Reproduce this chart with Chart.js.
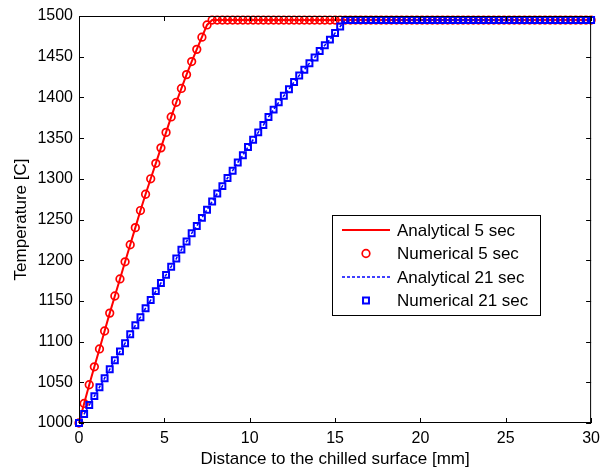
<!DOCTYPE html>
<html>
<head>
<meta charset="utf-8">
<script src="https://cdn.jsdelivr.net/npm/chart.js@4"></script>
<style>
  html, body { margin: 0; padding: 0; background: #fff; }
  #wrap { width: 606px; height: 472px; }
</style>
</head>
<body>
<div id="wrap"><canvas id="myChart" width="606" height="472"></canvas></div>
<script>
// DATA: distance grid [mm] (0 .. 30, every 0.3 mm) and temperatures [C]
const distance = Array.from({ length: 101 }, (_, i) => +(i * 0.3).toFixed(1));
const seriesLabels = ["Analytical 5 sec", "Numerical 5 sec", "Analytical 21 sec", "Numerical 21 sec"];
const xTicks = [0, 5, 10, 15, 20, 25, 30];
const yTicks = [1000, 1050, 1100, 1150, 1200, 1250, 1300, 1350, 1400, 1450, 1500];

const temp5 = [
  1000, 1024, 1047, 1069, 1091, 1113, 1135, 1156, 1177, 1198,
  1219, 1240, 1261, 1281, 1300, 1319, 1338, 1357, 1376, 1394,
  1411, 1428, 1444, 1459, 1474, 1489, 1495, 1495, 1495, 1495,
  1495, 1495, 1495, 1495, 1495, 1495, 1495, 1495, 1495, 1495,
  1495, 1495, 1495, 1495, 1495, 1495, 1495, 1495, 1495, 1495,
  1495, 1495, 1495, 1495, 1495, 1495, 1495, 1495, 1495, 1495,
  1495, 1495, 1495, 1495, 1495, 1495, 1495, 1495, 1495, 1495,
  1495, 1495, 1495, 1495, 1495, 1495, 1495, 1495, 1495, 1495,
  1495, 1495, 1495, 1495, 1495, 1495, 1495, 1495, 1495, 1495,
  1495, 1495, 1495, 1495, 1495, 1495, 1495, 1495, 1495, 1495,
  1495,
];
const temp21 = [
  1000, 1011, 1022, 1033, 1044, 1055, 1066, 1077, 1088, 1098,
  1109, 1120, 1130, 1141, 1151, 1162, 1172, 1182, 1192, 1202,
  1213, 1223, 1233, 1242, 1252, 1262, 1272, 1282, 1291, 1301,
  1310, 1320, 1329, 1339, 1348, 1357, 1366, 1376, 1385, 1394,
  1402, 1410, 1419, 1427, 1434, 1442, 1449, 1457, 1464, 1471,
  1479, 1487, 1495, 1495, 1495, 1495, 1495, 1495, 1495, 1495,
  1495, 1495, 1495, 1495, 1495, 1495, 1495, 1495, 1495, 1495,
  1495, 1495, 1495, 1495, 1495, 1495, 1495, 1495, 1495, 1495,
  1495, 1495, 1495, 1495, 1495, 1495, 1495, 1495, 1495, 1495,
  1495, 1495, 1495, 1495, 1495, 1495, 1495, 1495, 1495, 1495,
  1495,
];

const FONT = "'Liberation Sans', Arial, sans-serif";
const toPoints = (ys) => distance.map((x, i) => ({ x: x, y: ys[i] }));

// FRAME WITH INWARD TICKS (matlab style box)
const framePlugin = {
  id: "frame",
  afterDatasetsDraw(chart) {
    const { ctx, chartArea: a, scales } = chart;
    ctx.save();
    ctx.strokeStyle = "#000";
    ctx.lineWidth = 1;
    ctx.strokeRect(a.left + 0.5, a.top + 0.5, a.right - a.left - 1, a.bottom - a.top - 1);
    ctx.beginPath();
    xTicks.forEach((v) => {
      const px = Math.round(scales.x.getPixelForValue(v)) + 0.5;
      ctx.moveTo(px, a.bottom); ctx.lineTo(px, a.bottom - 5);
      ctx.moveTo(px, a.top); ctx.lineTo(px, a.top + 5);
    });
    yTicks.forEach((v) => {
      const py = Math.round(scales.y.getPixelForValue(v)) + 0.5;
      ctx.moveTo(a.left, py); ctx.lineTo(a.left + 5, py);
      ctx.moveTo(a.right, py); ctx.lineTo(a.right - 5, py);
    });
    ctx.stroke();
    ctx.restore();
  },
};

// LEGEND BOX INSIDE THE PLOT
const legendBox = {
  id: "legendBox",
  afterDraw(chart) {
    const { ctx } = chart;
    const bx = 332, by = 215, bw = 208, bh = 100, rowH = 23.5;
    ctx.save();
    ctx.fillStyle = "#fff";
    ctx.fillRect(bx, by, bw, bh);
    ctx.strokeStyle = "#000";
    ctx.lineWidth = 1;
    ctx.strokeRect(bx + 0.5, by + 0.5, bw, bh);
    ctx.font = "17px " + FONT;
    ctx.textBaseline = "middle";
    seriesLabels.forEach((label, i) => {
      const ds = chart.data.datasets.find((d) => d.label === label);
      const cy = by + 15 + i * rowH;
      if (ds.showLine) {
        ctx.beginPath();
        ctx.strokeStyle = ds.borderColor;
        ctx.lineWidth = ds.borderWidth;
        ctx.setLineDash(ds.borderDash || []);
        ctx.moveTo(bx + 10, cy); ctx.lineTo(bx + 58, cy);
        ctx.stroke();
        ctx.setLineDash([]);
      } else {
        ctx.fillStyle = "rgba(0,0,0,0)";
        ctx.strokeStyle = ds.pointBorderColor;
        ctx.lineWidth = ds.pointBorderWidth;
        Chart.helpers.drawPoint(ctx, { pointStyle: ds.pointStyle, radius: ds.pointRadius, borderWidth: ds.pointBorderWidth }, bx + 34, cy);
      }
      ctx.fillStyle = "#000";
      ctx.fillText(label, bx + 65, cy + 1);
    });
    ctx.restore();
  },
};

const tickFont = { family: FONT, size: 16 };
const titleFont = { family: FONT, size: 17 };
const ctx = document.getElementById("myChart").getContext("2d");
const myChart = new Chart(ctx, {
  type: "scatter",
  data: {
    datasets: [
      {
        label: "Numerical 21 sec",
        data: toPoints(temp21),
        showLine: false,
        pointStyle: "rect",
        pointRadius: 4.2,
        pointBorderWidth: 2,
        pointBorderColor: "#0000ff",
        pointBackgroundColor: "rgba(0,0,0,0)",
        order: 0,
      },
      {
        label: "Analytical 21 sec",
        // analytical curve coincides with the numerical points
        data: toPoints(temp21),
        showLine: true,
        borderColor: "#0000ff",
        borderWidth: 1.5,
        borderDash: [3, 2],
        pointRadius: 0,
        order: 1,
      },
      {
        label: "Numerical 5 sec",
        data: toPoints(temp5),
        showLine: false,
        pointStyle: "circle",
        pointRadius: 3.8,
        pointBorderWidth: 1.7,
        pointBorderColor: "#ff0000",
        pointBackgroundColor: "rgba(0,0,0,0)",
        order: 2,
      },
      {
        label: "Analytical 5 sec",
        data: toPoints(temp5),
        showLine: true,
        borderColor: "#ff0000",
        borderWidth: 2,
        pointRadius: 0,
        order: 3,
      },
    ],
  },
  options: {
    responsive: false,
    animation: false,
    clip: false,
    layout: { padding: { top: 16, right: 9, left: 0, bottom: 0 } },
    plugins: { legend: { display: false }, tooltip: { enabled: false } },
    scales: {
      x: {
        type: "linear",
        min: 0,
        max: 30,
        afterBuildTicks: (s) => { s.ticks = xTicks.map((v) => ({ value: v })); },
        afterFit: (s) => { s.height = 49; },
        grid: { display: false, drawTicks: false },
        border: { display: false },
        ticks: { padding: 6, color: "#000", font: tickFont, callback: (v) => String(v) },
        title: {
          display: true,
          text: "Distance to the chilled surface [mm]",
          color: "#000",
          font: titleFont,
          padding: { top: 0, bottom: 2 },
        },
      },
      y: {
        type: "linear",
        min: 1000,
        max: 1500,
        afterBuildTicks: (s) => { s.ticks = yTicks.map((v) => ({ value: v })); },
        afterFit: (s) => { s.width = 79; },
        grid: { display: false, drawTicks: false },
        border: { display: false },
        ticks: { padding: 6, color: "#000", font: tickFont, callback: (v) => String(v) },
        title: {
          display: true,
          text: "Temperature [C]",
          color: "#000",
          font: titleFont,
          padding: { top: 11, bottom: 0 },
        },
      },
    },
  },
  plugins: [framePlugin, legendBox],
});
</script>
</body>
</html>
